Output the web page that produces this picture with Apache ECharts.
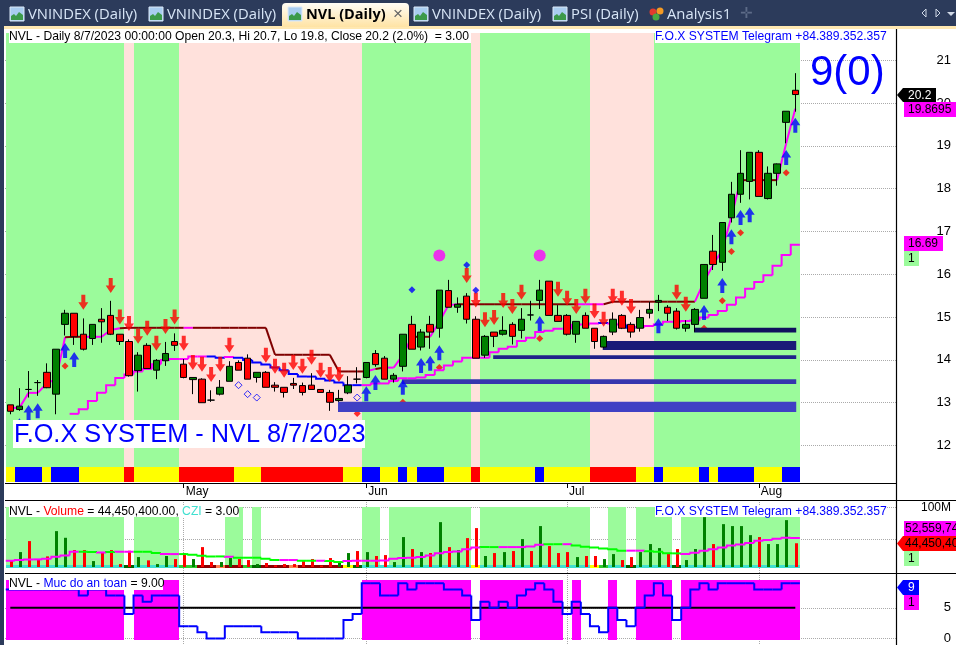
<!DOCTYPE html>
<html><head><meta charset="utf-8">
<script src="https://cdn.jsdelivr.net/npm/echarts@6/dist/echarts.min.js"></script>
<style>html,body{margin:0;padding:0;background:#fff}#c{width:956px;height:645px}</style>
</head><body><div id="c"></div>
<script>
// per-bar states are written as runs: "G13 P1" = 13 bars of G then 1 of P
const runs=s=>s.split(' ').flatMap(r=>Array(+r.slice(1)).fill(r[0]));
// ---------- data ----------
const opens=[12.95,12.84,13.31,13.47,13.71,13.20,14.83,15.09,14.60,14.50,14.95,15.04,14.60,14.43,13.75,14.34,13.76,13.98,14.43,13.90,13.54,13.55,13.06,13.20,13.50,13.94,14.04,13.59,13.71,13.41,13.36,13.45,13.40,13.41,13.31,13.24,13.05,13.23,13.55,13.59,14.15,14.04,13.55,13.85,14.83,14.30,14.83,14.74,15.62,15.23,15.49,14.95,14.11,14.65,14.60,14.83,14.69,15.05,15.39,15.84,15.04,15.04,14.60,15.04,14.74,14.30,14.65,15.04,14.83,14.74,15.09,15.35,15.23,15.14,14.74,14.83,15.44,16.54,16.28,17.32,17.87,18.17,18.85,17.77,18.36,19.55,20.30];
const closes=[12.80,12.92,13.31,13.47,13.35,14.25,15.09,14.54,14.25,14.83,14.89,14.60,14.43,13.63,14.11,13.80,13.99,14.15,14.34,13.59,13.59,13.00,13.06,13.36,13.85,13.76,13.55,13.71,13.36,13.36,13.24,13.41,13.24,13.31,13.24,13.01,13.10,13.41,13.55,13.94,13.89,13.55,13.64,14.60,14.25,14.65,14.65,15.63,15.23,15.30,14.95,14.04,14.55,14.55,14.69,14.55,14.95,15.05,15.63,15.04,14.90,14.60,14.90,14.74,14.43,14.55,14.95,14.74,14.65,14.99,15.18,15.39,15.09,14.74,14.83,15.18,16.23,16.23,17.21,17.87,18.36,18.85,17.82,18.36,18.58,19.81,20.20];
const lows=[12.73,12.81,13.12,13.16,13.34,12.73,14.57,14.35,14.22,14.35,14.40,14.58,14.35,13.61,13.26,13.79,13.55,13.86,14.21,13.57,13.20,13.00,13.02,13.17,13.50,13.76,13.55,13.47,13.36,13.26,13.12,13.32,13.17,13.31,13.24,12.81,13.02,13.20,13.45,13.57,13.84,13.55,13.47,13.73,14.25,14.22,14.26,14.52,15.23,15.10,14.85,14.04,14.05,14.30,14.57,14.36,14.50,14.92,15.19,15.04,14.90,14.57,14.40,14.74,14.26,14.27,14.58,14.72,14.52,14.66,14.97,15.14,14.91,14.71,14.66,14.66,15.44,16.10,16.08,17.21,17.67,17.75,17.82,17.75,18.07,19.06,19.80];
const highs=[12.95,13.34,13.74,13.53,13.92,14.25,15.17,15.09,14.97,14.83,15.21,15.38,14.60,14.48,14.18,14.39,14.02,14.42,14.62,14.02,13.59,13.57,13.29,13.53,13.97,13.99,14.13,13.71,13.74,13.48,13.36,13.58,13.47,13.69,13.31,13.30,13.30,13.62,13.83,13.94,14.23,14.09,13.69,14.60,15.03,14.72,15.03,15.63,15.87,15.46,15.56,15.02,14.58,14.65,15.02,14.88,15.21,15.38,15.87,15.84,15.28,15.07,14.90,15.11,14.74,14.57,15.11,15.07,14.88,15.17,15.36,15.52,15.28,15.21,14.93,15.21,16.23,16.92,17.21,18.16,18.90,18.85,18.90,18.52,18.59,19.81,20.70];
const stopLine=[12.88,12.88,13.23,13.23,13.45,13.55,14.53,14.54,14.54,14.54,14.54,14.70,14.74,14.75,14.75,14.75,14.75,14.75,14.75,14.75,14.75,14.75,14.75,14.75,14.75,14.75,14.75,14.75,14.75,14.12,14.12,14.12,14.12,14.12,14.12,14.12,13.73,13.73,13.73,13.73,13.79,13.82,13.82,14.11,14.54,14.54,14.54,14.89,15.28,15.30,15.30,15.30,15.30,15.30,15.30,15.30,15.30,15.30,15.30,15.30,15.30,15.30,15.30,15.30,15.30,15.30,15.36,15.36,15.36,15.36,15.36,15.36,15.36,15.36,15.36,15.36,15.83,16.22,16.57,17.35,18.20,18.20,18.20,18.20,18.20,19.06,19.87];
const stopStates=runs("D1 M6 D2 M4 D7 M1 D19 M1 D1 M3 D2 M3 D13 M3 D10 M5 D4 M2");
const slowLine=[null,null,null,null,null,null,null,12.74,12.85,13.04,13.23,13.41,13.58,13.66,13.73,13.79,13.90,14.00,14.02,14.02,14.08,14.08,14.08,14.05,14.07,14.05,14.00,13.94,13.89,13.82,13.76,13.67,13.61,13.61,13.56,13.52,13.47,13.41,13.41,13.41,13.45,13.45,13.51,13.57,13.57,13.59,13.65,13.76,13.87,13.96,14.05,14.05,14.05,14.18,14.26,14.31,14.44,14.52,14.65,14.68,14.73,14.73,14.82,14.83,14.85,14.86,14.85,14.83,14.75,14.77,14.79,14.83,14.89,14.89,14.91,14.92,14.99,15.05,15.14,15.29,15.46,15.66,15.82,15.98,16.20,16.45,16.69];
const slowStates=runs("M22 B2 M1 B14 M26 B1 M2 B1 M18");
const backStates=runs("G13 P1 G5 P20 G12 P1 G12 P7 G16");
const ribbonStates=runs("Y1 B3 Y1 B3 Y5 R1 Y5 R6 Y3 R9 Y2 B2 Y2 B1 Y1 B3 Y3 R1 Y6 B1 Y5 R5 Y2 B1 Y4 B1 Y1 B4 Y3 B2");
const volumes=[17.4,30.8,47.8,19.5,24.1,63.2,52.9,33.9,33.9,16.9,29.8,33.9,12.3,32.9,23.1,18.0,12.3,24.7,20.0,29.3,20.0,38.5,15.4,15.4,21.6,20.0,18.5,12.3,13.9,10.3,12.3,12.3,16.9,20.0,10.0,21.6,15.4,29.3,32.4,30.8,24.7,26.2,15.4,54.0,35.5,30.8,29.3,77.1,38.5,33.9,52.4,67.9,24.7,29.3,30.8,32.4,50.9,32.4,71.0,40.1,29.3,30.8,23.1,24.7,24.7,20.0,27.7,18.5,23.1,30.8,43.2,37.0,29.3,35.5,18.5,35.5,84.8,43.2,74.0,71.0,71.0,57.0,54.0,43.2,43.2,80.2,44.45];
const volumeAvg=[17.4,18.5,19.5,19.5,20.5,23.6,25.7,31.3,31.3,31.0,30.0,31.0,31.3,31.3,31.3,31.3,29.3,27.7,27.7,27.7,26.7,25.2,24.1,24.1,23.6,22.1,22.1,22.1,20.5,18.5,18.5,18.5,17.4,17.4,17.4,17.0,15.4,17.0,17.4,17.4,17.4,17.9,20.5,21.6,22.1,23.1,25.7,28.8,30.8,31.8,35.0,38.0,38.5,38.5,38.5,38.5,38.5,39.5,42.0,43.0,43.0,43.0,41.0,39.0,38.0,36.5,35.0,33.0,33.0,33.0,32.0,31.3,28.8,28.8,27.7,29.8,33.0,35.0,38.0,41.0,42.7,44.7,48.3,49.3,51.4,52.9,52.56];
const avgStates=runs("M8 G2 M1 G1 M2 G3 M2 G5 M1 G5 M2 G2 M1 G2 M15 G2 M5 G2 M1 G6 M2 G4 M13");
const volBackStates=runs("G13 W1 G5 W5 G2 W1 G1 W11 G2 W1 G9 W1 G12 W2 G2 W1 G4 W1 G13");
const cziStates=runs("T13 D1 T5 L2 M2 O1 M2 L1 D1 M3 O1 M5 Y1 D1 T12 Y1 T12 Y1 L1 T2 D1 T4 D1 T13");
const safety=[8,8,8,8,8,8,8,8,7,8,8,7,7,4,7,6,7,7,7,2,2,1,0,0,2,2,2,2,1,1,1,1,0,0,0,0,0,3,4,9,9,7,7,9,8,9,9,9,8,8,7,3,6,5,6,5,7,8,9,8,6,4,6,4,2,1,5,3,2,5,7,9,7,3,5,8,9,8,9,9,9,9,8,8,8,9,9];
const safeStates=runs("M13 W1 M5 W20 M12 W1 M9 W1 M1 W3 M1 W2 M4 W1 M13");
const safetyLevel=safety.map(()=>5);
const redArrowBars=[8,11,12,13,14,15,16,17,18,19,20,21,22,23,24,28,29,30,31,32,33,34,35,36,50,51,52,53,54,55,56,60,61,62,63,64,65,66,67,68,73,74];
const redArrowPrices=[15.35,15.74,15.00,14.85,14.55,14.74,14.39,14.78,15.00,14.39,13.94,13.90,13.66,13.90,14.34,14.11,13.85,13.76,13.94,13.85,14.06,13.76,13.66,13.66,15.97,15.40,14.94,14.99,15.39,15.25,15.58,15.65,15.44,15.25,15.49,15.14,14.95,15.49,15.44,15.25,15.58,15.30];
const blueArrowBars=[1,2,3,6,7,39,40,43,45,46,47,58,71,76,78,79,80,81,85,86];
const blueArrowPrices=[12.46,12.77,12.81,14.22,14.01,13.21,13.47,13.36,13.87,13.92,14.17,14.85,14.80,15.11,15.74,16.88,17.33,17.39,18.73,19.48];
const redDotBars=[6,38,43,47,58,76,78,79,80,85];
const redDotPrices=[13.86,12.75,13.01,13.82,14.50,14.74,15.38,16.53,16.97,18.37];
const blueDotBars=[44,50,51];
const blueDotPrices=[15.64,16.22,15.63];
const hollowBars=[25,26,27,38];
const hollowPrices=[13.41,13.20,13.12,13.12];
const circleBars=[47,58];
const circlePrices=[16.44,16.44];
const zoneStart=[36,43,53,65,75];
const zoneLow=[12.78,13.44,14.02,14.23,14.64];
const zoneHigh=[13.02,13.55,14.11,14.44,14.75];
const monthBars=[19,39,61,82];
const monthLabels=["May","Jun","Jul","Aug"];
const priceTicks=[12,13,14,15,16,17,18,19,20,21];
const volumeTicks=[50,100];
const safetyTicks=[0,5];
// ---------- styles ----------
const N=opens.length, LAST=N-1;
const FONT='"Liberation Sans",Arial,sans-serif';
const XMIN=-0.581, XMAX=97.03;
const zoneColors=['#4040c4','#3636ae','#20208a','#1a1a78','#10105e'];
const xBase=(g)=>({type:'value',gridIndex:g,min:XMIN,max:XMAX,
  axisLine:{show:false},
  axisTick:{show:g===0,length:5,lineStyle:{color:'#000'},customValues:monthBars},
  axisLabel:{show:g===0,customValues:monthBars,margin:3,align:'left',color:'#000',fontFamily:FONT,fontSize:12,padding:[0,0,0,2],
    formatter:v=>monthLabels[monthBars.indexOf(v)]||''},
  splitLine:{show:g>0,lineStyle:{color:'#aaa',type:'dotted'}}
});
const yBase=(g,min,max,ticks,labels,fmt,size)=>({type:'value',gridIndex:g,position:'right',min,max,
  axisLine:{show:false},
  axisTick:{show:true,length:5,lineStyle:{color:'#000'},customValues:ticks},
  axisLabel:{customValues:labels,margin:55,align:'right',color:'#000',fontFamily:FONT,fontSize:size||13,formatter:fmt||(v=>String(v))},
  splitLine:{show:true,lineStyle:{color:'#aaa',type:'dotted'},customValues:ticks}
});
function band(g,states,palette,lo,hi,z){
  return {type:'custom',xAxisIndex:g,yAxisIndex:g,z,silent:true,clip:true,animation:false,
    encode:{x:0,y:1},data:states.map((s,i)=>[i,lo]),
    renderItem(p,api){const i=api.value(0),c=palette[states[i]];if(!c)return null;
      const a=api.coord([i-.5,hi]),b=api.coord([i+.5,lo]);const x0=Math.round(a[0]),x1=Math.round(b[0]);
      return {type:'rect',shape:{x:x0,y:Math.round(a[1]),width:x1-x0,height:Math.round(b[1])-Math.round(a[1])},style:{fill:c}};}};
}
function steps(g,values,states,palette,w,z){
  return {type:'custom',xAxisIndex:g,yAxisIndex:g,z,silent:true,clip:true,animation:false,
    encode:{x:0,y:1},data:values.map((v,i)=>[i,v==null?'-':v]),
    renderItem(p,api){const i=api.value(0),v=values[i];if(v==null)return null;
      const a=api.coord([i-.5,v]),b=api.coord([i+.5,v]);const pts=[];
      if(i>0&&values[i-1]!=null)pts.push(api.coord([i-.5,values[i-1]]));
      pts.push(a,b);
      return {type:'polyline',shape:{points:pts},style:{stroke:palette[states[i]],lineWidth:w,fill:null,lineJoin:'miter'}};}};
}
function segs(g,values,states,palette,w,z){
  return {type:'custom',xAxisIndex:g,yAxisIndex:g,z,silent:true,clip:true,animation:false,
    encode:{x:0,y:1},data:values.map((v,i)=>[i,v]),
    renderItem(p,api){const i=api.value(0);if(i===0)return null;
      return {type:'polyline',shape:{points:[api.coord([i-1,values[i-1]]),api.coord([i,values[i]])]},style:{stroke:palette[states[i]],lineWidth:w,fill:null}};}};
}
const pts=(xs,ys)=>xs.map((x,i)=>[x,ys[i]]);
const ARROW_DOWN='path://M3,0L7,0L7,8L10,8L5,16L0,8L3,8Z';
const ARROW_UP='path://M5,0L10,8L7,8L7,16L3,16L3,8L0,8Z';
function marks(xs,ys,symbol,size,style,z){
  return {type:'scatter',xAxisIndex:0,yAxisIndex:0,z,silent:true,animation:false,data:pts(xs,ys),symbol,symbolSize:size,itemStyle:style};
}
const P_TOP=21.638,P_BOT=11.124,P_BACK=11.498,P_RIB=11.147;
const series=[
  band(0,backStates,{G:'#9bfb9b',P:'#ffe1dc'},P_BACK,P_TOP,1),
  band(0,ribbonStates,{Y:'#ffff00',B:'#0000ff',R:'#ff0000'},P_RIB,P_BACK,2),
  marks(redDotBars,redDotPrices,'diamond',7,{color:'#ff0000'},3),
  {type:'custom',xAxisIndex:0,yAxisIndex:0,z:4,silent:true,clip:true,animation:false,encode:{x:0,y:1},
    data:zoneStart.map((s,i)=>[s,zoneLow[i],zoneHigh[i]]),
    renderItem(p,api){const i=p.dataIndex;const a=api.coord([api.value(0)-.1,api.value(2)]),b=api.coord([LAST+.1,api.value(1)]);
      return {type:'rect',shape:{x:a[0],y:a[1],width:b[0]-a[0],height:b[1]-a[1]},style:{fill:zoneColors[i]}};}},
  segs(0,stopLine,stopStates,{D:'#800000',M:'#ff00ff'},2,5),
  steps(0,slowLine,slowStates,{M:'#ff00ff',B:'#0000ff'},2,5),
  {type:'candlestick',xAxisIndex:0,yAxisIndex:0,z:6,silent:true,animation:false,barWidth:7,
    encode:{x:0,y:[1,2,3,4]},
    data:opens.map((o,i)=>[i,o,closes[i],lows[i],highs[i]]),
    itemStyle:{color:'#008000',color0:'#ff0000',borderColor:'#000',borderColor0:'#000',borderColorDoji:'#000',borderWidth:1}},
  marks(redArrowBars,redArrowPrices,ARROW_DOWN,[10,15],{color:'#ff0000'},7),
  marks(blueArrowBars,blueArrowPrices,ARROW_UP,[10,15],{color:'#0000ff'},7),
  marks(blueDotBars,blueDotPrices,'diamond',7,{color:'#0000ff'},7),
  marks(hollowBars,hollowPrices,'diamond',7,{color:'rgba(255,255,255,0)',borderColor:'#0000ff',borderWidth:1},7),
  marks(circleBars,circlePrices,'circle',12,{color:'#ff00ff'},7),
  band(1,volBackStates,{G:'#9bfb9b'},6.2,100,1),
  band(1,cziStates,{T:'#40e0d0',D:'#006400',L:'#32cd32',M:'#8b0000',O:'#ff7f50',Y:'#ffff00'},6.2,10.8,2),
  {type:'custom',xAxisIndex:1,yAxisIndex:1,z:3,silent:true,clip:true,animation:false,encode:{x:0,y:1},
    data:volumes.map((v,i)=>[i,v]),
    renderItem(p,api){const i=api.value(0),a=api.coord([i,api.value(1)]),b=api.coord([i,7.7]);
      return {type:'rect',shape:{x:Math.round(a[0]-0.7),y:a[1],width:3,height:b[1]-a[1]},style:{fill:closes[i]>opens[i]?'#008000':'#ff0000'}};}},
  steps(1,volumeAvg,avgStates,{M:'#ff00ff',G:'#00ff00'},2,4),
  band(2,safeStates,{M:'#ff00ff'},-0.22,9.56,1),
  {type:'line',xAxisIndex:2,yAxisIndex:2,z:2,silent:true,animation:false,showSymbol:false,data:safetyLevel.map((v,i)=>[i,v]),lineStyle:{color:'#000',width:2}},
  steps(2,safety,safety.map(()=>'B'),{B:'#0000ff'},2,3)
];
// ---------- fixed page furniture ----------
const Z=100;
const rect=(x,y,w,h,fill,extra)=>Object.assign({type:'rect',z:Z,silent:true,shape:{x,y,width:w,height:h},style:{fill}},extra||{});
const line=(x1,y1,x2,y2,c,w)=>({type:'line',z:Z,silent:true,shape:{x1,y1,x2,y2},style:{stroke:c||'#000',lineWidth:w||1}});
const text=(x,y,t,font,fill,extra)=>({type:'text',z:Z+1,silent:true,style:Object.assign({x,y,text:t,font,fill,textVerticalAlign:'middle',textBaseline:'middle'},extra||{})});
const TF='12.15px '+FONT, LF='12px '+FONT;
const tabFont='14.8px "Open Sans",'+FONT;
function chartIcon(x,y){return [
  rect(x,y,14,14,'#a9cdf0',{style:{fill:'#a9cdf0',stroke:'#dbe9f8',lineWidth:1}}),
  {type:'polygon',z:Z+1,silent:true,shape:{points:[[x+1,y+13],[x+1,y+9],[x+4,y+7],[x+6,y+9],[x+9,y+5],[x+13,y+8],[x+13,y+13]]},style:{fill:'#3c9a4a'}}];}
function tag(x,y,w,h,fill,t,color,arrow,tx){
  const els=[];
  if(arrow){els.push({type:'polygon',z:Z,silent:true,shape:{points:[[x,y+h/2],[x+6,y],[x+w,y],[x+w,y+h],[x+6,y+h]]},style:{fill}});}
  else els.push(rect(x,y,w,h,fill));
  els.push(text(tx!=null?tx:x+3,y+h/2+.5,t,LF,color));
  return els;
}
const elements=[
  rect(0,0,956,26,'#2c3b5b'),rect(0,0,4,645,'#2c3b5b'),
  rect(4,26,952,3,'#ffe8b2'),
  rect(282,3,127,24,'#ffe8b2',{shape:{x:282,y:3,width:127,height:24,r:[4,4,0,0]},style:{fill:{type:'linear',x:0,y:0,x2:0,y2:1,colorStops:[{offset:0,color:'#fffdf6'},{offset:1,color:'#ffe3a4'}]}}}),
  ...chartIcon(10,7),text(28,14.5,'VNINDEX (Daily)',tabFont,'#d8e6f7'),
  ...chartIcon(149,7),text(167,14.5,'VNINDEX (Daily)',tabFont,'#d8e6f7'),
  ...chartIcon(288,7),text(306,14.5,'NVL (Daily)','bold 14.5px "Open Sans",'+FONT,'#000'),
  text(393,14,'×','17px '+FONT,'#666'),
  ...chartIcon(414,7),text(432,14.5,'VNINDEX (Daily)',tabFont,'#d8e6f7'),
  ...chartIcon(553,7),text(571,14.5,'PSI (Daily)',tabFont,'#d8e6f7'),
  {type:'circle',z:Z,silent:true,shape:{cx:653,cy:12,r:3.5},style:{fill:'#e23b2e'}},
  {type:'circle',z:Z,silent:true,shape:{cx:660,cy:11,r:3.5},style:{fill:'#f59a23'}},
  {type:'circle',z:Z,silent:true,shape:{cx:656,cy:17,r:3.5},style:{fill:'#49a942'}},
  text(667,14.5,'Analysis1',tabFont,'#d8e6f7'),
  text(740,14,'✛','15px "DejaVu Sans"','#5d6b88'),
  {type:'polygon',z:Z,silent:true,shape:{points:[[926,9],[922,13],[926,17]]},style:{fill:'none',stroke:'#cfd8e6'}},
  {type:'polygon',z:Z,silent:true,shape:{points:[[936,9],[940,13],[936,17]]},style:{fill:'none',stroke:'#cfd8e6'}},
  {type:'polygon',z:Z,silent:true,shape:{points:[[947,12],[955,12],[951,16]]},style:{fill:'#cfd8e6'}},
  line(5,483.5,896,483.5,'#000',1.2),line(5,500.5,956,500.5,'#000',1.2),line(5,573.5,956,573.5,'#000',1.2),line(896.5,29,896.5,645,'#000',1.2),
  rect(9,30,462,13,'#fff'),
  text(9,37,'NVL - Daily 8/7/2023 00:00:00 Open 20.3, Hi 20.7, Lo 19.8, Close 20.2 (2.0%)  = 3.00',TF,'#000'),
  rect(655,30,231,13,'#fff'),
  text(655,37,'F.O.X SYSTEM Telegram +84.389.352.357',TF,'#0000ff'),
  text(810,73,'9(0)','42px '+FONT,'#0000ff'),
  rect(13,420,352,28,'#fff'),
  text(14,435,'F.O.X SYSTEM - NVL 8/7/2023','25.3px '+FONT,'#0000ff'),
  rect(9,506,230,11,'#fff'),
  {type:'text',z:Z+1,silent:true,style:{x:9,y:511.5,textVerticalAlign:'middle',font:TF,fill:'#000',
    text:'{k|NVL - }{r|Volume}{k| = 44,450,400.00, }{c|CZI}{k| = 3.00}',
    rich:{k:{fill:'#000',font:TF},r:{fill:'#ff0000',font:TF},c:{fill:'#40e0d0',font:TF}}}},
  rect(655,506,231,11,'#fff'),
  text(655,511.5,'F.O.X SYSTEM Telegram +84.389.352.357',TF,'#0000ff'),
  rect(9,578,154,12,'#fff'),
  {type:'text',z:Z+1,silent:true,style:{x:9,y:583.5,textVerticalAlign:'middle',font:TF,fill:'#000',
    text:'{k|NVL - }{b|Muc do an toan}{k| = 9.00}',
    rich:{k:{fill:'#000',font:TF},b:{fill:'#0000ff',font:TF}}}},
  ...tag(897,88,39,14,'#000','20.2','#fff',true,908),
  ...tag(904,102,52,15,'#ff00ff','19.8695','#000',false,908),
  ...tag(904,236,39,15,'#ff00ff','16.69','#000',false,908),
  ...tag(904,251,15,15,'#9bfb9b','1','#000',false,908),
  ...tag(904,521,52,15,'#ff00ff','52,559,74','#000',false,905),
  ...tag(897,536,59,15,'#ff0000','44,450,40','#000',true,905),
  ...tag(904,551,15,15,'#9bfb9b','1','#000',false,908),
  ...tag(897,580,22,15,'#0000ff','9','#fff',true,908),
  ...tag(904,595,15,15,'#ff00ff','1','#000',false,908)
];
const chart=echarts.init(document.getElementById('c'),null,{renderer:'canvas'});
chart.setOption({
  animation:false,backgroundColor:'#fff',
  grid:[{left:5,width:891,top:33,height:450},{left:5,width:891,top:500,height:73},{left:5,width:891,top:573,height:72}],
  xAxis:[xBase(0),xBase(1),xBase(2)],
  yAxis:[
    yBase(0,P_BOT,P_TOP,priceTicks,priceTicks),
    yBase(1,-1.54,111.3,volumeTicks,[100],v=>v+'M',12),
    yBase(2,-0.92,10.69,safetyTicks,safetyTicks)
  ],
  series,
  graphic:{elements}
});
</script></body></html>
